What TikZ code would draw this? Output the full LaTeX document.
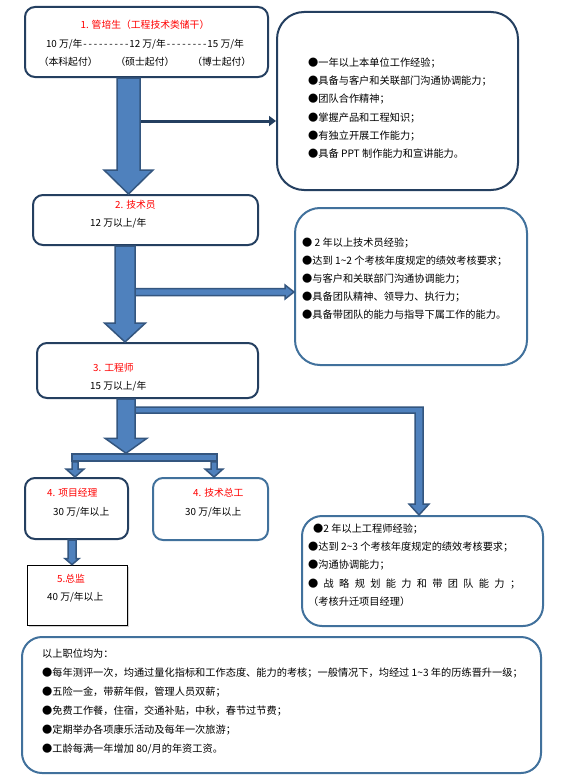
\documentclass[tikz,border=0pt]{standalone}
\usepackage{fontspec}
\setmainfont{Noto Sans CJK SC}
\usetikzlibrary{arrows.meta,calc,shadows}
\definecolor{navy}{HTML}{243F60}
\definecolor{steel}{HTML}{41719C}
\definecolor{arrowblue}{HTML}{4F81BD}
\definecolor{arrowedge}{HTML}{34567F}
\newcommand{\BlockDown}[5]{%
	\filldraw[blockarrow] ($(#1)+(-#3,0)$) -- ($(#2)+(-#3,-#5)$) -- ($(#2)+(-#4,-#5)$) -- (#2)
		-- ($(#2)+(#4,-#5)$) -- ($(#2)+(#3,-#5)$) -- ($(#1)+(#3,0)$) -- cycle;}
\newcommand{\dashrun}[1]{\foreach \i in {1,...,#1}{\makebox[5.2pt]{-}}}

\begin{document}
\begin{tikzpicture}[x=1pt, y=-1pt,
	stage/.style={draw=navy, line width=2pt, rounded corners=10pt, fill=white, inner sep=0pt},
	txt/.style={anchor=west, inner sep=0pt, font=\fontsize{9.8}{12}\selectfont},
	reqtext/.style={anchor=north west, align=left, inner sep=0pt, font=\fontsize{10.2}{18.3}\selectfont},
	blockarrow/.style={fill=arrowblue, draw=arrowedge, line width=1.5pt}]
	\path[use as bounding box, fill=white] (0,0) rectangle (560,784);

		% Define nodes
		\node[stage, minimum width=243pt, minimum height=70pt] (grad) at (146.5,42) {};
		\node[stage, minimum width=225pt, minimum height=50pt] (tech) at (145.5,220) {};
		\node[stage, minimum width=221pt, minimum height=55pt] (eng) at (147.5,370.5) {};
		\node[stage, minimum width=103pt, minimum height=61pt] (pm) at (76.5,508.5) {};
		\node[stage, draw=steel, minimum width=115pt, minimum height=62pt] (chief) at (210.5,509) {};
		\node[draw, line width=0.8pt, fill=white, inner sep=0pt, minimum width=100pt, minimum height=60pt,
			drop shadow={shadow xshift=1.5pt, shadow yshift=-1.5pt, fill=black!35}] (dir) at (77,595) {};
		\node[stage, rounded corners=27pt, minimum width=241pt, minimum height=178pt] (reqA) at (397.5,101) {};
		\node[stage, draw=steel, rounded corners=25pt, minimum width=232pt, minimum height=157pt] (reqB) at (411,286.5) {};
		\node[stage, draw=steel, rounded corners=20pt, minimum width=241pt, minimum height=110pt] (reqC) at (422.5,571) {};
		\node[stage, draw=steel, rounded corners=20pt, minimum width=519pt, minimum height=136pt] (perks) at (281.5,705) {};
		\node[blockarrow, inner sep=0pt, minimum width=145pt, minimum height=7pt] (fork) at (144.5,457.5) {};

		% Texts
		\node[txt, anchor=center, align=center, font=\fontsize{9.8}{18.5}\selectfont] (gradT) at (145,43.5)
			{\textcolor{red}{1. 管培生（工程技术类储干）}\\10 万/年\dashrun{9}12 万/年\dashrun{8}15 万/年\\（本科起付）\hspace{18pt}（硕士起付）\hspace{18pt}（博士起付）};
		\node[txt, red] (techT) at (115,205) {2. 技术员};
		\node[txt] (techS) at (90,223) {12 万以上/年};
		\node[txt, red] (engT) at (93,368) {3. 工程师};
		\node[txt] (engS) at (90,386) {15 万以上/年};
		\node[txt, red] (pmT) at (47,493) {4. 项目经理};
		\node[txt] (pmS) at (53,512) {30 万/年以上};
		\node[txt, red] (chiefT) at (193,493) {4. 技术总工};
		\node[txt] (chiefS) at (185,512) {30 万/年以上};
		\node[txt, red] (dirT) at (57,579) {5.总监};
		\node[txt] (dirS) at (47,597) {40 万/年以上};

		\node[reqtext] (reqAT) at (308,57.3) {●一年以上本单位工作经验；\\●具备与客户和关联部门沟通协调能力；\\●团队合作精神；\\●掌握产品和工程知识；\\●有独立开展工作能力；\\●具备 PPT 制作能力和宣讲能力。};
		\node[reqtext, font=\fontsize{10.2}{18}\selectfont] (reqBT) at (302,237.3) {● 2 年以上技术员经验；\\●达到 1\textasciitilde2 个考核年度规定的绩效考核要求；\\●与客户和关联部门沟通协调能力；\\●具备团队精神、领导力、执行力；\\●具备带团队的能力与指导下属工作的能力。};
		\node[reqtext] (reqCT) at (308,523.3) {\hspace*{5pt}●2 年以上工程师经验；\\●达到 2\textasciitilde3 个考核年度规定的绩效考核要求；\\●沟通协调能力；\\\makebox[212pt][s]{● 战 略 规 划 能 力 和 带 团 队 能 力 ；}\\（考核升迁项目经理）};
		\node[reqtext, font=\fontsize{10.2}{19}\selectfont] (perksT) at (42,648.3) {以上职位均为：\\●每年测评一次，均通过量化指标和工作态度、能力的考核；一般情况下，均经过 1\textasciitilde3 年的历练晋升一级；\\●五险一金，带薪年假，管理人员双薪；\\●免费工作餐，住宿，交通补贴，中秋，春节过节费；\\●定期举办各项康乐活动及每年一次旅游；\\●工龄每满一年增加 80/月的年资工资。};

		% Connect the nodes
		\coordinate (c1) at (128.5,0);
		\coordinate (b1) at (141,121);
		\BlockDown{grad.south -| c1}{tech.north -| c1}{11.5}{24.5}{24}
		\draw[navy, line width=3pt, -{Triangle[length=7pt,width=10pt]}] (b1) -- (b1 -| reqA.west);

		\coordinate (c2) at (125,0);
		\coordinate (b2) at (125,292);
		\filldraw[blockarrow] ($(b2)+(10,-3.5)$) -- ($(b2 -| reqB.west)+(-9,-3.5)$) -- ($(b2 -| reqB.west)+(-9,-7)$)
			-- (b2 -| reqB.west) -- ($(b2 -| reqB.west)+(-9,7)$) -- ($(b2 -| reqB.west)+(-9,3.5)$) -- ($(b2)+(10,3.5)$) -- cycle;
		\BlockDown{tech.south -| c2}{eng.north -| c2}{10}{20.5}{19}

		\coordinate (c3) at (126,0);
		\coordinate (b3) at (126,410);
		\coordinate (c4) at (419,0);
		\filldraw[blockarrow] ($(b3)+(9,-3)$) -- ($(b3 -| c4)+(4,-3)$) -- ($(reqC.north -| c4)+(4,-11)$)
			-- ($(reqC.north -| c4)+(10,-11)$) -- (reqC.north -| c4) -- ($(reqC.north -| c4)+(-10,-11)$)
			-- ($(reqC.north -| c4)+(-4,-11)$) -- ($(b3 -| c4)+(-4,3)$) -- ($(b3)+(9,3)$) -- cycle;
		\BlockDown{eng.south -| c3}{fork.north -| c3}{9}{21}{15}

		\coordinate (c5) at (75,0);
		\coordinate (c6) at (214,0);
		\coordinate (c7) at (72,0);
		\BlockDown{fork.south -| c5}{pm.north -| c5}{3}{9}{8}
		\BlockDown{fork.south -| c6}{chief.north -| c6}{3}{9}{8}
		\BlockDown{pm.south -| c7}{dir.north -| c7}{4}{7}{6}
	\end{tikzpicture}
\end{document}
